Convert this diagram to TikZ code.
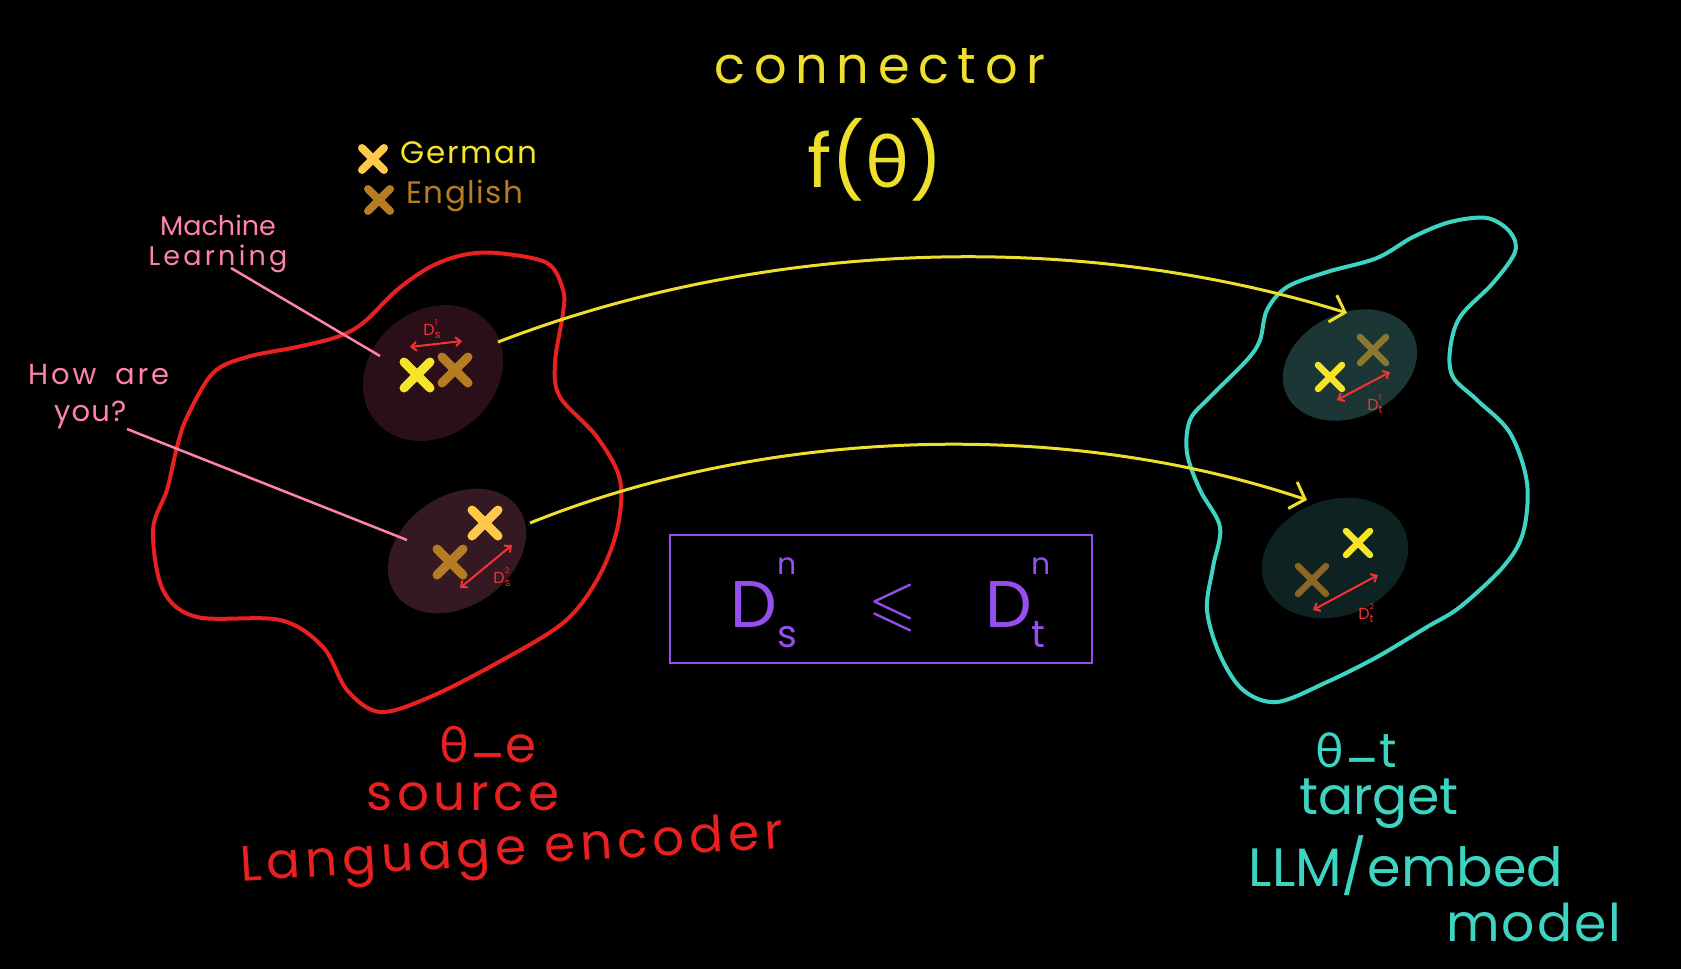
\documentclass[tikz,border=0pt]{standalone}
\usepackage{fontspec}
\setmainfont{Poppins}
\newfontfamily\grk{Lato}
\usepackage{amssymb}
\usetikzlibrary{shapes.geometric,arrows.meta}
\definecolor{cRed}{RGB}{232,32,32}
\definecolor{cCyan}{RGB}{62,212,194}
\definecolor{cYel}{RGB}{238,222,46}
\definecolor{cPink}{RGB}{255,130,172}
\definecolor{cPurp}{RGB}{150,78,238}
\definecolor{cDist}{RGB}{240,52,52}
\definecolor{blobA}{RGB}{42,14,24}
\definecolor{blobB}{RGB}{52,24,34}
\definecolor{blobC}{RGB}{28,54,54}
\definecolor{blobD}{RGB}{14,34,34}
\definecolor{xYel}{RGB}{245,228,40}
\definecolor{xOrg}{RGB}{255,200,75}
\definecolor{xBrn}{RGB}{182,124,34}
\definecolor{xOli}{RGB}{140,120,45}
\definecolor{xBrn2}{RGB}{140,100,35}
\newcommand\xcross[4]{\draw[line cap=round, line width=#4, draw=#3] ([shift={(-#2,-#2)}]#1) -- ([shift={(#2,#2)}]#1) ([shift={(-#2,#2)}]#1) -- ([shift={(#2,-#2)}]#1);}
\newcommand\DDsm[2]{D\rlap{\raisebox{0.62em}{\fontsize{8}{8}\selectfont #1}}\raisebox{-0.22em}{\fontsize{11}{11}\selectfont #2}}
\newcommand\DDbig[2]{D\rlap{\raisebox{0.8em}{\fontsize{30}{30}\selectfont #1}}\raisebox{-0.3em}{\fontsize{38}{38}\selectfont #2}}
\newcommand\midbar{\raisebox{0.22em}{\_}}
\begin{document}
\begin{tikzpicture}[x=1pt,y=-1pt,
  blob/.style={ellipse, inner sep=0pt, draw=none},
  yarrow/.style={draw=cYel, line width=3pt, -{Straight Barb[length=13pt,width=28pt,line width=3pt]}},
  darr/.style={draw=cDist, line width=2pt, {Straight Barb[length=5pt,width=9pt]}-{Straight Barb[length=5pt,width=9pt]}},
  plink/.style={draw=cPink, line width=2.5pt},
  lbl/.style={inner sep=0pt, anchor=center},
  dlab/.style={lbl, text=cDist, font=\fontsize{16}{16}\selectfont}]
\fill[black] (0,0) rectangle (1681,969);
\useasboundingbox (0,0) rectangle (1681,969);
% outlines
\draw[cRed, line width=4pt] plot[smooth cycle, tension=0.55] coordinates {
 (463,255) (497,253) (547,263) (563,290) (563,313) (555,363) (560,397) (597,437) (620,480) (617,530) (597,580) (563,623) (497,663) (430,697) (380,712) (347,690) (323,647) (280,620) (197,617) (163,590) (153,530) (167,490) (177,447) (187,417) (213,373) (247,357) (297,347) (337,337) (363,323) (397,290) (430,267)};
\draw[cCyan, line width=4pt] plot[smooth cycle, tension=0.55] coordinates {
 (1487,218) (1510,232) (1515,252) (1493,283) (1460,317) (1450,350) (1453,377) (1477,400) (1510,433) (1527,483) (1523,533) (1503,567) (1460,607) (1427,627) (1377,657) (1327,682) (1277,702) (1243,690) (1220,655) (1207,610) (1213,567) (1220,527) (1200,490) (1187,453) (1190,420) (1210,397) (1247,360) (1260,340) (1267,310) (1287,287) (1327,272) (1377,258) (1413,237) (1450,222)};
% blobs
\node[blob, fill=blobA, minimum width=150pt, minimum height=125pt, rotate=40] (sb1) at (433,373) {};
\node[blob, fill=blobB, minimum width=150pt, minimum height=110pt, rotate=35] (sb2) at (457,551) {};
\node[blob, fill=blobC, minimum width=140pt, minimum height=104pt, rotate=25] (tb1) at (1350,365) {};
\node[blob, fill=blobD, minimum width=150pt, minimum height=116pt, rotate=20] (tb2) at (1335,558) {};
% crosses
\xcross{417,375}{13}{xYel}{9pt}
\xcross{455,370}{13}{xBrn}{9pt}
\xcross{485,523}{13}{xOrg}{9pt}
\xcross{450,562}{13}{xBrn}{9pt}
\xcross{1330,377}{12}{xYel}{6.5pt}
\xcross{1373,350}{13}{xOli}{6.5pt}
\xcross{1358,543}{12}{xYel}{6.5pt}
\xcross{1312,580}{14}{xBrn2}{6.5pt}
\xcross{373,159}{11}{xOrg}{8pt}
\xcross{379,200}{11}{xBrn}{8pt}
% distance arrows
\coordinate (ds1a) at (410,347); \coordinate (ds1b) at (462,341);
\draw[darr] (ds1a) -- (ds1b);
\node[dlab] (ds1) at (432,329) {\DDsm{1}{s}};
\coordinate (ds2a) at (460,588); \coordinate (ds2b) at (512,545);
\draw[darr] (ds2a) -- (ds2b);
\node[dlab] (ds2) at (502,577) {\DDsm{2}{s}};
\coordinate (dt1a) at (1337,400); \coordinate (dt1b) at (1390,372);
\draw[darr] (dt1a) -- (dt1b);
\node[dlab] (dt1) at (1375,404) {\DDsm{1}{t}};
\coordinate (dt2a) at (1313,610); \coordinate (dt2b) at (1378,575);
\draw[darr] (dt2a) -- (dt2b);
\node[dlab] (dt2) at (1366,613) {\DDsm{2}{t}};
% connector arrows
\coordinate (y1s) at (498,342); \coordinate (y1e) at (1347,313);
\coordinate (y2s) at (530,523); \coordinate (y2e) at (1307,500);
\draw[yarrow] (y1s) .. controls (750,245) and (1062,225) .. (y1e);
\draw[yarrow] (y2s) .. controls (760,430) and (1057,416) .. (y2e);
% titles
\node[lbl, text=cYel, font=\fontsize{51}{51}\selectfont\addfontfeatures{LetterSpace=17}] (conn) at (880,66) {connector};
\node[lbl, text=cYel, font=\fontsize{74}{74}\selectfont] (fth) at (875,160) {f({\grk θ})};
% legend
\node[lbl, anchor=west, text=xYel, font=\fontsize{31}{31}\selectfont\addfontfeatures{LetterSpace=6}] (ger) at (400,153) {German};
\node[lbl, anchor=west, text=xBrn, font=\fontsize{31}{31}\selectfont\addfontfeatures{LetterSpace=5}] (eng) at (406,196) {English};
% pink labels
\node[lbl, text=cPink, font=\fontsize{27}{30}\selectfont, align=center] (ml) at (218,244) {Machine\\{\addfontfeatures{LetterSpace=12}Learning}};
\node[lbl, text=cPink, font=\fontsize{29}{37}\selectfont, align=left, anchor=north west] (hay) at (28,364) {{\addfontfeatures{LetterSpace=10}How\hspace{8pt} are}\\\hspace*{26pt}{\addfontfeatures{LetterSpace=4}you?}};
\coordinate (ml-p) at (231,268); \coordinate (sb1-p) at (380,356);
\coordinate (hay-p) at (127,429); \coordinate (sb2-p) at (407,540);
\draw[plink] (ml-p) -- (sb1-p);
\draw[plink] (hay-p) -- (sb2-p);
% box
\node[draw=cPurp, line width=2.5pt, minimum width=422pt, minimum height=128pt, inner sep=0pt] (bx) at (881,599) {};
\node[lbl, text=cPurp, font=\fontsize{66}{66}\selectfont] (ineq) at (888,603) {\DDbig{n}{s}\hspace{72pt}\raisebox{4pt}{\fontsize{62}{62}\selectfont$\leqslant$}\hspace{68pt}\DDbig{n}{t}};
% source labels
\node[lbl, text=cRed, font=\fontsize{50}{50}\selectfont] (the) at (488,745) {{\grk θ}\midbar e};
\node[lbl, text=cRed, font=\fontsize{50}{50}\selectfont\addfontfeatures{LetterSpace=9}] (src) at (463,797) {source};
\node[lbl, text=cRed, font=\fontsize{50}{50}\selectfont\addfontfeatures{LetterSpace=10}, rotate=3.5] (lenc) at (512,853) {Language encoder};
% target labels
\node[lbl, text=cCyan, font=\fontsize{48}{48}\selectfont] (tht) at (1356,750) {{\grk θ}\midbar t};
\node[lbl, text=cCyan, font=\fontsize{52}{52}\selectfont] (tgt) at (1379,804) {target};
\node[lbl, text=cCyan, font=\fontsize{54}{54}\selectfont] (llm) at (1406,866) {LLM/embed};
\node[lbl, text=cCyan, font=\fontsize{52}{52}\selectfont\addfontfeatures{LetterSpace=4}] (mdl) at (1534,922) {model};
\end{tikzpicture}
\end{document}
